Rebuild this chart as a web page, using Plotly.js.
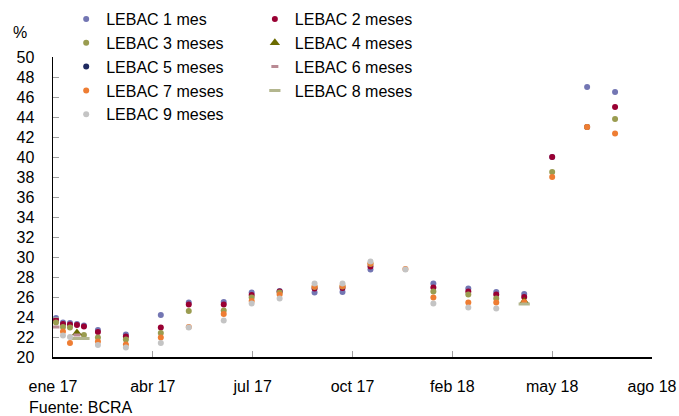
<!DOCTYPE html>
<html>
<head>
<meta charset="utf-8">
<script src="https://cdn.plot.ly/plotly-3.0.1.min.js"></script>
<style>html,body{margin:0;padding:0;background:#fff;}#chart{width:679px;height:416px;}</style>
</head>
<body>
<div id="chart"></div>
<script>
// Auction dates (LEBAC licitaciones)
const dates = ['2017-01-04','2017-01-11','2017-01-18','2017-01-25','2017-02-01','2017-02-15','2017-03-15',
  '2017-04-19','2017-05-17','2017-06-21','2017-07-19','2017-08-16','2017-09-20','2017-10-18','2017-11-15',
  '2017-12-20','2018-01-17','2018-02-21','2018-03-21','2018-04-18','2018-05-16','2018-06-20','2018-07-18'];

const lebac1 = [23.9,23.45,23.4,23.3,23.15,22.7,22.25,24.2,25.45,25.5,26.45,26.6,26.45,26.5,28.75,null,27.35,26.85,26.5,26.3,40.0,47.0,46.5];
const lebac2 = [23.7,23.3,23.25,23.2,23.05,22.5,22.05,22.95,25.25,25.25,26.2,26.55,26.85,26.9,29.05,null,26.95,26.55,26.25,26.0,40.0,43.0,45.0];
const lebac3 = [23.45,23.0,22.95,null,22.2,21.95,21.75,22.4,24.6,24.65,25.95,26.45,27.0,27.05,29.3,null,26.55,26.25,25.85,null,38.5,43.0,43.8];
const lebac4 = [null,null,null,22.4,null,null,null,null,null,null,null,null,null,null,null,null,null,null,null,25.55,null,null,null];
const lebac5 = [null,null,null,null,null,null,null,null,null,null,null,null,null,null,null,null,null,null,null,null,null,null,null];
const lebac6 = [23.0,null,null,22.2,null,null,null,null,null,null,null,null,null,null,null,null,null,null,null,null,null,null,null];
const lebac7 = [null,22.55,21.4,null,null,21.55,21.25,21.95,23.0,24.3,25.6,26.25,27.05,27.1,29.35,28.8,25.95,25.45,25.45,25.5,38.0,43.0,42.35];
const lebac8 = [null,null,null,21.85,21.85,null,null,null,null,null,null,null,null,null,null,null,null,null,null,25.3,null,null,null];
const lebac9 = [null,22.15,22.0,null,null,21.2,20.95,21.4,22.95,23.65,25.35,25.85,27.35,27.35,29.55,28.75,25.35,24.95,24.85,null,null,null,null];

const seriesNames = ['LEBAC 1 mes','LEBAC 2 meses','LEBAC 3 meses','LEBAC 4 meses','LEBAC 5 meses','LEBAC 6 meses','LEBAC 7 meses','LEBAC 8 meses','LEBAC 9 meses'];
const seriesValues = [lebac1,lebac2,lebac3,lebac4,lebac5,lebac6,lebac7,lebac8,lebac9];
const colors = ['#7376B3','#990033','#9A9C50','#6B6B00','#1F2A60','#B98A94','#EE7D33','#B3B68E','#C4C4C4'];
const symbols = ['circle','circle','circle','triangle-up','circle','line-ew','circle','line-ew','circle'];
const sizes = [6,6,6,9,6,5,6,8,6];

const tickVals = ['2017-01-01','2017-04-11','2017-07-20','2017-10-28','2018-02-05','2018-05-16','2018-08-24'];
const tickText = ['ene 17','abr 17','jul 17','oct 17','feb 18','may 18','ago 18'];

const FONT = 'Liberation Sans, Arial, sans-serif';

const traces = seriesNames.map((name, i) => {
  const isLine = symbols[i] === 'line-ew';
  return {
    type: 'scatter', mode: 'markers', name: name,
    x: dates, y: seriesValues[i],
    legend: (i % 2 === 0) ? 'legend' : 'legend2',
    legendgroup: 'g' + i,
    marker: {
      symbol: symbols[i], size: sizes[i], color: colors[i],
      line: isLine ? {color: colors[i], width: 3} : {width: 0}
    },
    hoverinfo: 'x+y+name'
  };
});

const legendCommon = {
  orientation: 'v', xanchor: 'left', yanchor: 'top', yref: 'paper', xref: 'paper',
  font: {family: FONT, size: 16, color: '#000'},
  bgcolor: 'rgba(0,0,0,0)', borderwidth: 0, tracegroupgap: 0, traceorder: 'grouped',
  itemclick: false
};

const layout = {
  width: 679, height: 416,
  margin: {l: 53, r: 27, t: 57, b: 59, autoexpand: false},
  paper_bgcolor: '#fff', plot_bgcolor: '#fff',
  font: {family: FONT, size: 16, color: '#000'},
  showlegend: true,
  legend: Object.assign({}, legendCommon, {x: 0.022, y: 1.183}),
  legend2: Object.assign({}, legendCommon, {x: 0.337, y: 1.183}),
  xaxis: {
    type: 'date', range: ['2017-01-01','2018-08-24'],
    tickmode: 'array', tickvals: tickVals, ticktext: tickText,
    showline: true, linecolor: '#000', linewidth: 1.5,
    ticks: 'inside', ticklen: 6, tickcolor: '#A0A0A0', tickwidth: 1,
    showgrid: false, zeroline: false,
    tickfont: {family: FONT, size: 16, color: '#000'},
    ticklabelstandoff: 14
  },
  yaxis: {
    range: [20, 50], dtick: 2, tick0: 20,
    showline: true, linecolor: '#000', linewidth: 1.5,
    ticks: 'inside', ticklen: 6, tickcolor: '#A0A0A0', tickwidth: 1,
    showgrid: false, zeroline: false,
    tickfont: {family: FONT, size: 16, color: '#000'},
    ticklabelstandoff: 14
  },
  annotations: [
    {text: '%', xref: 'paper', yref: 'paper', x: -0.055, y: 1.083, xanchor: 'center', yanchor: 'middle',
     showarrow: false, font: {family: FONT, size: 16, color: '#000'}},
    {text: 'Fuente: BCRA', xref: 'paper', yref: 'paper', x: -0.043, y: -0.167, xanchor: 'left', yanchor: 'middle',
     showarrow: false, font: {family: FONT, size: 16, color: '#000'}}
  ]
};

Plotly.newPlot('chart', traces, layout, {displayModeBar: false, staticPlot: true});
</script>
</body>
</html>
